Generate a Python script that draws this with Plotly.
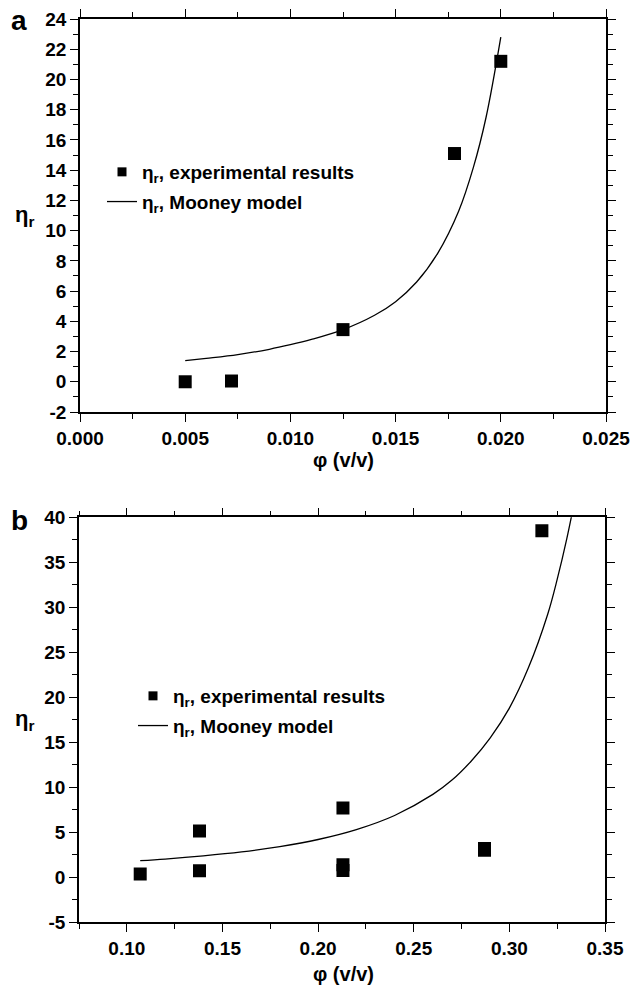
import plotly.graph_objects as go

W, H = 643, 986

# ---- panel a: low volume fractions ----
phi_a = [0.0050, 0.0072, 0.0125, 0.0178, 0.0200]
eta_a = [0.00, 0.05, 3.45, 15.1, 21.2]

phi_a_model = [0.0050, 0.0060, 0.0075, 0.0090, 0.0100, 0.0110, 0.0125, 0.0140,
               0.0150, 0.0160, 0.0170, 0.0180, 0.0187, 0.0193, 0.0200]
eta_a_model = [1.40, 1.55, 1.80, 2.15, 2.45, 2.80, 3.45, 4.40,
               5.30, 6.60, 8.50, 11.3, 14.2, 17.5, 22.8]

# ---- panel b: high volume fractions ----
phi_b = [0.107, 0.138, 0.138, 0.213, 0.213, 0.213, 0.287, 0.287, 0.317]
eta_b = [0.37, 5.15, 0.74, 7.70, 1.40, 0.75, 3.00, 3.20, 38.5]

phi_b_model = [0.107, 0.120, 0.140, 0.160, 0.180, 0.200, 0.220, 0.240, 0.260, 0.270,
               0.280, 0.290, 0.300, 0.310, 0.320, 0.325, 0.330, 0.335]
eta_b_model = [1.85, 2.03, 2.38, 2.82, 3.41, 4.20, 5.30, 6.87, 9.21, 10.8,
               12.9, 15.5, 18.8, 23.3, 29.2, 33.1, 37.6, 42.8]

# ---- tick labels (plain hyphen for negatives) ----
ya_vals = [-2, 0, 2, 4, 6, 8, 10, 12, 14, 16, 18, 20, 22, 24]
ya_text = ["-2", "0", "2", "4", "6", "8", "10", "12", "14", "16", "18", "20", "22", "24"]
xa_vals = [0.000, 0.005, 0.010, 0.015, 0.020, 0.025]
xa_text = ["0.000", "0.005", "0.010", "0.015", "0.020", "0.025"]
yb_vals = [-5, 0, 5, 10, 15, 20, 25, 30, 35, 40]
yb_text = ["-5", "0", "5", "10", "15", "20", "25", "30", "35", "40"]
xb_vals = [0.10, 0.15, 0.20, 0.25, 0.30, 0.35]
xb_text = ["0.10", "0.15", "0.20", "0.25", "0.30", "0.35"]

LBL_EXP = "η<sub>r</sub>, experimental results"
LBL_MOD = "η<sub>r</sub>, Mooney model"

FONT = "Liberation Sans, Arial, sans-serif"
TICKFONT = dict(family=FONT, size=19, color="black", weight="bold")
LEGFONT = dict(family=FONT, size=19, color="black", weight="bold")

fig = go.Figure()


def add_panel(xa, ya, legend, phi, eta, phi_m, eta_m):
    fig.add_trace(go.Scatter(
        x=phi, y=eta, mode="markers", xaxis=xa, yaxis=ya, showlegend=False,
        marker=dict(symbol="square", size=13, color="black")))
    fig.add_trace(go.Scatter(
        x=phi_m, y=eta_m, mode="lines", xaxis=xa, yaxis=ya, showlegend=False,
        line=dict(color="black", width=1.3, shape="spline", smoothing=1.0)))
    # legend entries (smaller key symbol, thin key line)
    fig.add_trace(go.Scatter(
        x=[None], y=[None], mode="markers", xaxis=xa, yaxis=ya,
        marker=dict(symbol="square", size=9, color="black"),
        name=LBL_EXP, legend=legend, legendgroup=legend + "e"))
    fig.add_trace(go.Scatter(
        x=[None], y=[None], mode="lines", xaxis=xa, yaxis=ya,
        line=dict(color="black", width=1.3),
        name=LBL_MOD, legend=legend, legendgroup=legend + "m"))


add_panel("x", "y", "legend", phi_a, eta_a, phi_a_model, eta_a_model)
add_panel("x2", "y2", "legend2", phi_b, eta_b, phi_b_model, eta_b_model)


def px_x(p):
    return p / W


def px_y(p):
    return 1 - p / H


axis_common = dict(
    showline=True, linewidth=1.5, linecolor="black", mirror="allticks",
    ticks="outside", ticklen=8, tickwidth=1.3, tickcolor="black",
    showgrid=False, zeroline=False, tickfont=TICKFONT, automargin=False,
)
minor_common = dict(ticks="outside", ticklen=5, tickwidth=1.2, tickcolor="black", showgrid=False)

fig.update_layout(
    width=W, height=H,
    margin=dict(l=0, r=0, t=0, b=0, autoexpand=False),
    paper_bgcolor="white", plot_bgcolor="white",
    xaxis=dict(domain=[px_x(80), px_x(606)], range=[0, 0.025],
               tickmode="array", tickvals=xa_vals, ticktext=xa_text, anchor="y",
               minor=dict(dtick=0.0025, tick0=0, **minor_common), **axis_common),
    yaxis=dict(domain=[px_y(412), px_y(19)], range=[-2, 24],
               tickmode="array", tickvals=ya_vals, ticktext=ya_text, anchor="x",
               minor=dict(dtick=1, tick0=0, **minor_common), **axis_common),
    xaxis2=dict(domain=[px_x(79), px_x(605)], range=[0.075, 0.35],
                tickmode="array", tickvals=xb_vals, ticktext=xb_text, anchor="y2",
                minor=dict(dtick=0.025, tick0=0.075, **minor_common), **axis_common),
    yaxis2=dict(domain=[px_y(922.3), px_y(517.3)], range=[-5, 40],
                tickmode="array", tickvals=yb_vals, ticktext=yb_text, anchor="x2",
                minor=dict(dtick=2.5, tick0=0, **minor_common), **axis_common),
    legend=dict(x=px_x(102), y=px_y(153), xanchor="left", yanchor="top",
                bgcolor="rgba(0,0,0,0)", font=LEGFONT,
                traceorder="grouped", tracegroupgap=2),
    legend2=dict(x=px_x(133), y=px_y(677), xanchor="left", yanchor="top",
                 bgcolor="rgba(0,0,0,0)", font=LEGFONT,
                 traceorder="grouped", tracegroupgap=2),
    showlegend=True,
)

annots = [
    dict(text="a", x=px_x(19), y=px_y(21), font=dict(family=FONT, size=28, weight="bold")),
    dict(text="b", x=px_x(19), y=px_y(520), font=dict(family=FONT, size=28, weight="bold")),
    dict(text="φ (v/v)", x=px_x(343), y=px_y(460), font=dict(family=FONT, size=20, weight="bold")),
    dict(text="φ (v/v)", x=px_x(343), y=px_y(974), font=dict(family=FONT, size=20, weight="bold")),
    dict(text="η<sub>r</sub>", x=px_x(24), y=px_y(216), font=dict(family=FONT, size=22, weight="bold")),
    dict(text="η<sub>r</sub>", x=px_x(24), y=px_y(720), font=dict(family=FONT, size=22, weight="bold")),
]
for a in annots:
    a.update(xref="paper", yref="paper", showarrow=False, xanchor="center", yanchor="middle")
    a["font"]["color"] = "black"
fig.update_layout(annotations=annots)

fig.write_html("out.html")
